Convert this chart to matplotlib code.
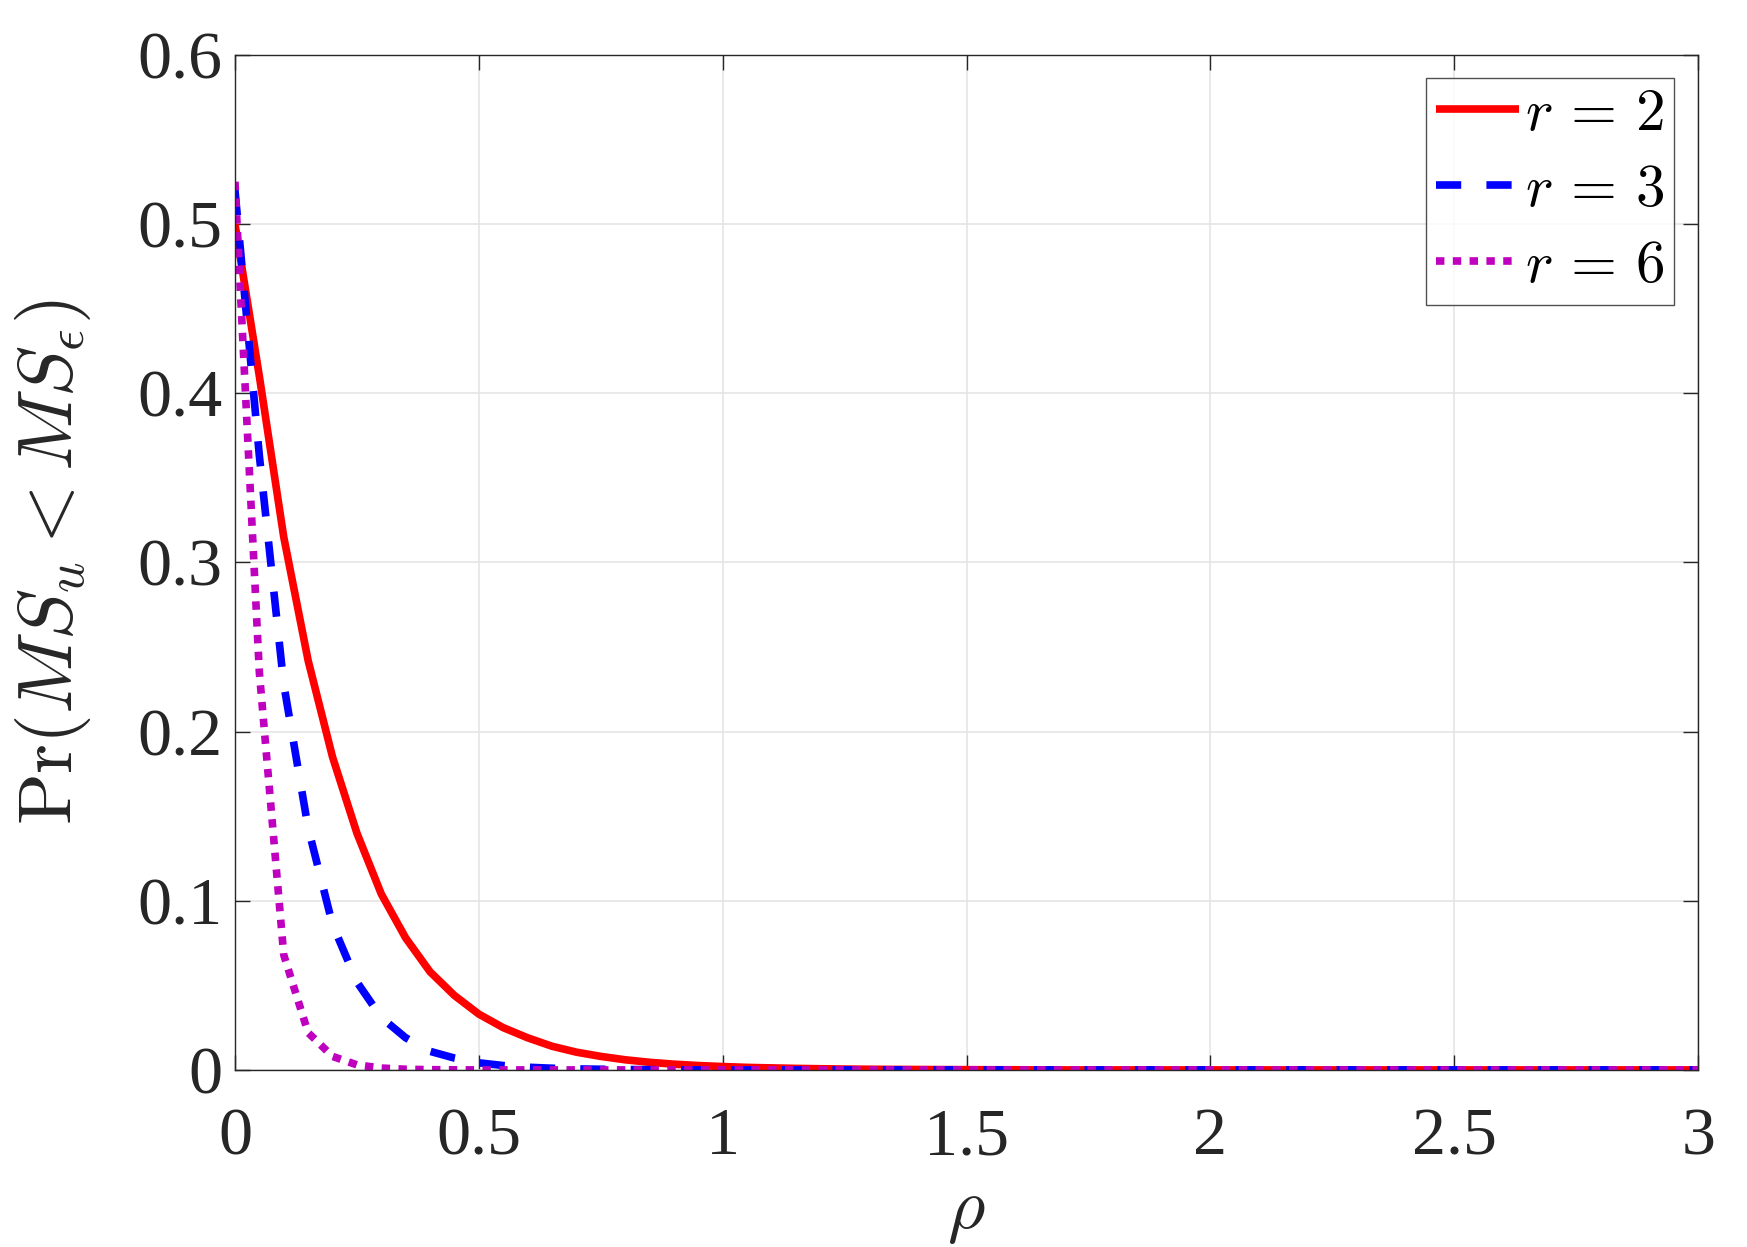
import matplotlib
matplotlib.use('Agg')
import matplotlib.pyplot as plt

rho = [0.00, 0.05, 0.10, 0.15, 0.20, 0.25, 0.30, 0.35, 0.40, 0.45,
       0.50, 0.55, 0.60, 0.65, 0.70, 0.75, 0.80, 0.85, 0.90, 0.95,
       1.00, 1.05, 1.10, 1.15, 1.20, 1.25, 1.30, 1.35, 1.40, 1.45,
       1.50, 1.55, 1.60, 1.65, 1.70, 1.75, 1.80, 1.85, 1.90, 1.95,
       2.00, 2.05, 2.10, 2.15, 2.20, 2.25, 2.30, 2.35, 2.40, 2.45,
       2.50, 2.55, 2.60, 2.65, 2.70, 2.75, 2.80, 2.85, 2.90, 2.95,
       3.00]

pr_r2 = [0.500, 0.410, 0.315, 0.242, 0.185, 0.140, 0.104, 0.078, 0.058, 0.044,
         0.033, 0.025, 0.019, 0.014, 0.0105, 0.008, 0.006, 0.0045, 0.0034, 0.0026,
         0.0020, 0.0015, 0.0012, 0.0009, 0.0007, 0.0005, 0.0004, 0.0003, 0.00025, 0.0002,
         0.00015, 0.0001, 0.0001, 0.0, 0.0, 0.0, 0.0, 0.0, 0.0, 0.0,
         0.0, 0.0, 0.0, 0.0, 0.0, 0.0, 0.0, 0.0, 0.0, 0.0,
         0.0, 0.0, 0.0, 0.0, 0.0, 0.0, 0.0, 0.0, 0.0, 0.0,
         0.0]

pr_r3 = [0.520, 0.363, 0.228, 0.143, 0.086, 0.052, 0.031, 0.019, 0.011, 0.007,
         0.0042, 0.0026, 0.0016, 0.0010, 0.0006, 0.0004, 0.00025, 0.00015, 0.0001, 0.0,
         0.0, 0.0, 0.0, 0.0, 0.0, 0.0, 0.0, 0.0, 0.0, 0.0,
         0.0, 0.0, 0.0, 0.0, 0.0, 0.0, 0.0, 0.0, 0.0, 0.0,
         0.0, 0.0, 0.0, 0.0, 0.0, 0.0, 0.0, 0.0, 0.0, 0.0,
         0.0, 0.0, 0.0, 0.0, 0.0, 0.0, 0.0, 0.0, 0.0, 0.0,
         0.0]

pr_r6 = [0.525, 0.235, 0.068, 0.022, 0.008, 0.003, 0.0011, 0.0004, 0.00015, 0.00005,
         0.0, 0.0, 0.0, 0.0, 0.0, 0.0, 0.0, 0.0, 0.0, 0.0,
         0.0, 0.0, 0.0, 0.0, 0.0, 0.0, 0.0, 0.0, 0.0, 0.0,
         0.0, 0.0, 0.0, 0.0, 0.0, 0.0, 0.0, 0.0, 0.0, 0.0,
         0.0, 0.0, 0.0, 0.0, 0.0, 0.0, 0.0, 0.0, 0.0, 0.0,
         0.0, 0.0, 0.0, 0.0, 0.0, 0.0, 0.0, 0.0, 0.0, 0.0,
         0.0]

xticks = [0, 0.5, 1, 1.5, 2, 2.5, 3]
xticklabels = ['0', '0.5', '1', '1.5', '2', '2.5', '3']
yticks = [0, 0.1, 0.2, 0.3, 0.4, 0.5, 0.6]
yticklabels = ['0', '0.1', '0.2', '0.3', '0.4', '0.5', '0.6']

plt.rcParams['font.family'] = ['Liberation Serif', 'DejaVu Serif']
plt.rcParams['mathtext.fontset'] = 'cm'

axcol = '#262626'
lw = 5.5

fig = plt.figure(figsize=(17.47, 12.47), dpi=100)
ax = fig.add_axes([0.1345, 0.142, 0.8375, 0.814])

ax.plot(rho, pr_r2, color='#ff0000', lw=lw, solid_capstyle='butt', label=r'$r\,=\,2$')
ax.plot(rho, pr_r3, color='#0000ff', lw=lw, dashes=(3.3, 3.3), dash_capstyle='butt', label=r'$r\,=\,3$')
ax.plot(rho, pr_r6, color='#bf00bf', lw=lw, dashes=(1.1, 1.1), dash_capstyle='butt', label=r'$r\,=\,6$')

ax.set_xlim(0, 3)
ax.set_ylim(0, 0.6)
ax.set_xticks(xticks)
ax.set_xticklabels(xticklabels)
ax.set_yticks(yticks)
ax.set_yticklabels(yticklabels)

ax.grid(True, color='#e3e3e3', lw=1.1)
ax.set_axisbelow(True)
for s in ax.spines.values():
    s.set_color(axcol)
    s.set_linewidth(1.0)
ax.tick_params(direction='in', length=11, width=1.0, colors=axcol,
               labelsize=49, top=True, right=True)
ax.tick_params(axis='y', pad=9)
ax.tick_params(axis='x', pad=27)

ax.set_xlabel(r'$\rho$', fontsize=52, color=axcol, labelpad=9)
ax.set_ylabel(r'$\mathrm{Pr}(MS_u < MS_\epsilon)$', fontsize=55, color=axcol, labelpad=32)

leg = ax.legend(loc='upper right', fontsize=42.5, handlelength=1.4, handletextpad=0.1,
                borderpad=0.17, labelspacing=0.37, borderaxespad=0.4, fancybox=False)
leg.get_frame().set_edgecolor(axcol)
leg.get_frame().set_linewidth(1.0)
for t in leg.get_texts():
    t.set_color('black')

fig.savefig('out.png', dpi=100, facecolor='white')
